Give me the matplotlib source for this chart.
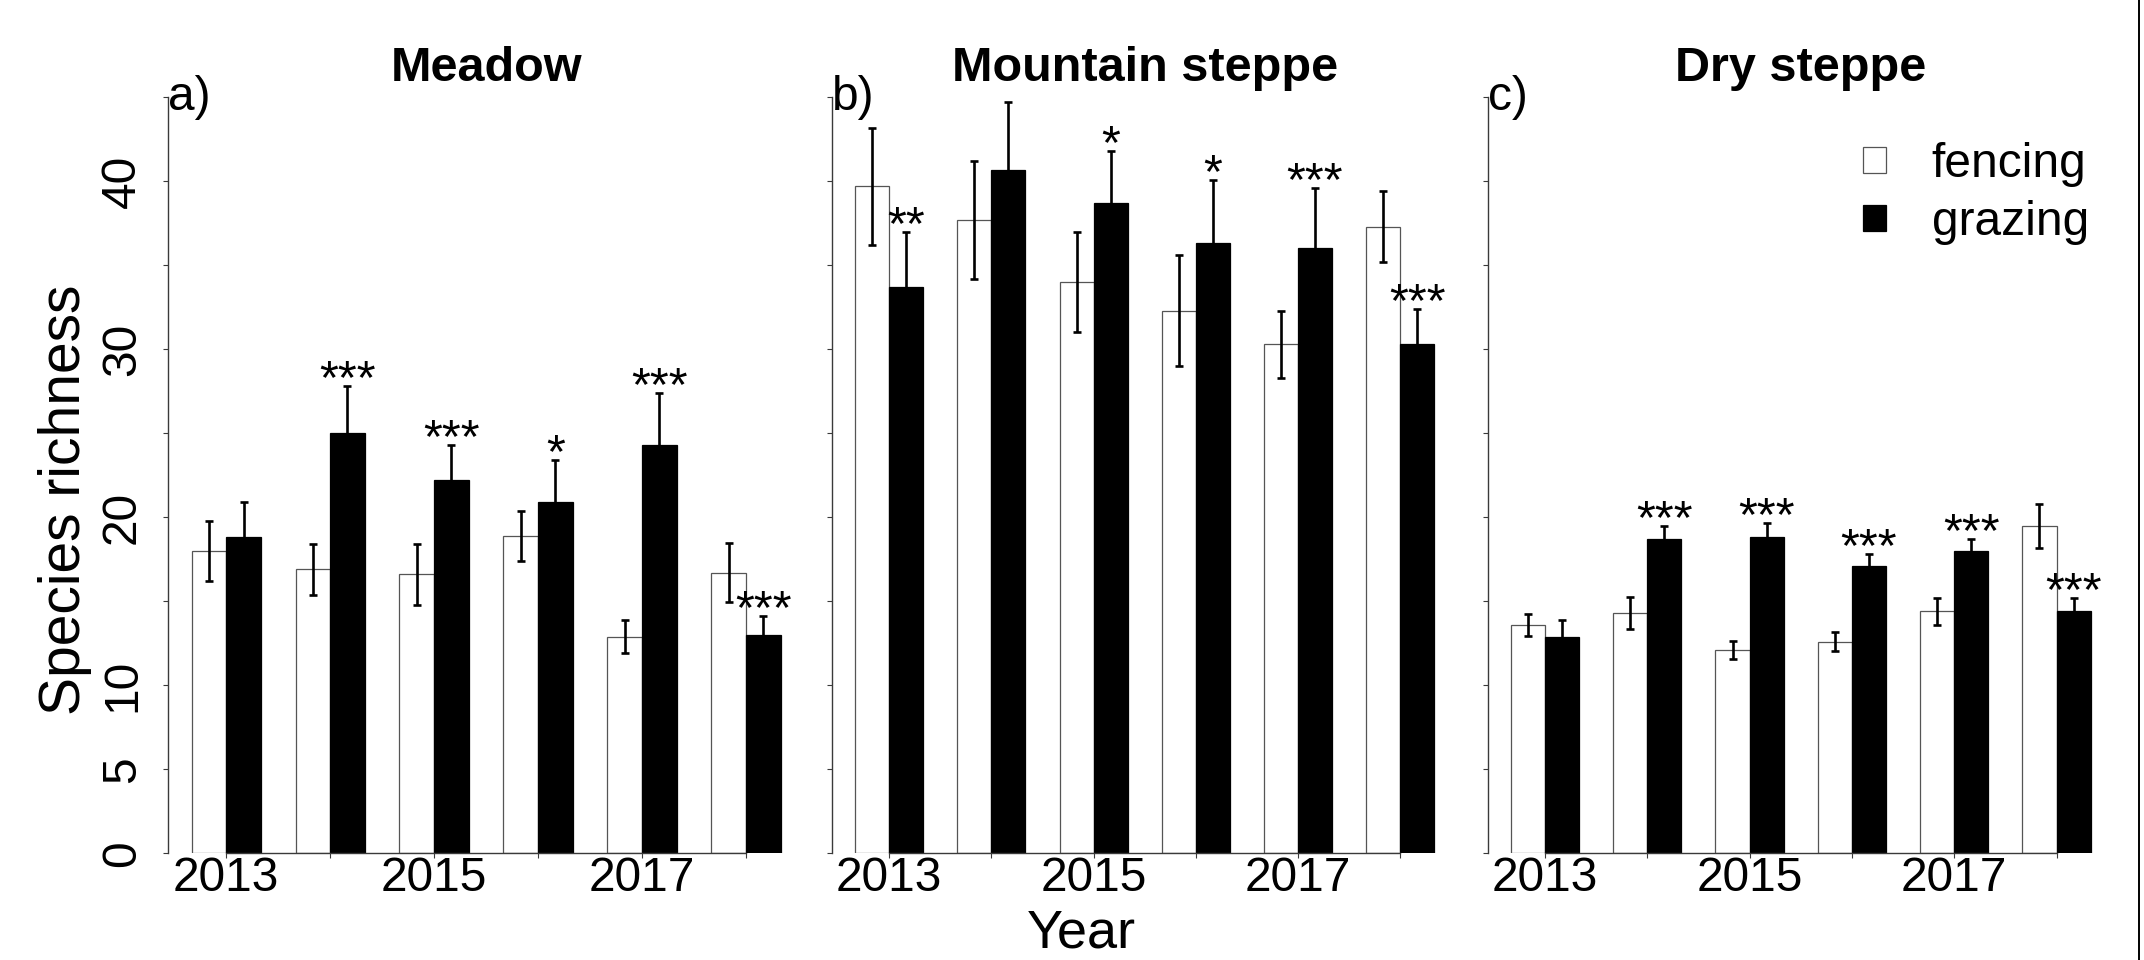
import numpy as np
import matplotlib
matplotlib.use("Agg")
import matplotlib.pyplot as plt
from matplotlib.patches import Patch
from matplotlib.lines import Line2D

# ---------------- data ----------------
years = [2013, 2014, 2015, 2016, 2017, 2018]
year_labels = ["2013", "", "2015", "", "2017", ""]
habitats = ["Meadow", "Mountain steppe", "Dry steppe"]
panel_tags = ["a)", "b)", "c)"]
treatments = ["fencing", "grazing"]

meadow_fencing = [18.0, 16.9, 16.6, 18.9, 12.9, 16.7]
meadow_fencing_se = [1.8, 1.5, 1.8, 1.5, 1.0, 1.75]
meadow_grazing = [18.8, 25.0, 22.2, 20.9, 24.3, 13.0]
meadow_grazing_se = [2.1, 2.8, 2.1, 2.5, 3.1, 1.1]
meadow_sig = ["", "***", "***", "*", "***", "***"]

mountain_fencing = [39.7, 37.7, 34.0, 32.3, 30.3, 37.3]
mountain_fencing_se = [3.5, 3.5, 3.0, 3.3, 2.0, 2.1]
mountain_grazing = [33.7, 40.7, 38.7, 36.3, 36.0, 30.3]
mountain_grazing_se = [3.3, 4.0, 3.1, 3.8, 3.6, 2.1]
mountain_sig = ["**", "", "*", "*", "***", "***"]

dry_fencing = [13.6, 14.3, 12.1, 12.6, 14.4, 19.5]
dry_fencing_se = [0.65, 0.95, 0.55, 0.55, 0.8, 1.3]
dry_grazing = [12.9, 18.7, 18.8, 17.1, 18.0, 14.4]
dry_grazing_se = [1.0, 0.77, 0.84, 0.7, 0.73, 0.8]
dry_sig = ["", "***", "***", "***", "***", "***"]

y_ticks = [0, 5, 10, 15, 20, 25, 30, 35, 40, 45]
y_tick_labels = ["0", "5", "10", "", "20", "", "30", "", "40", ""]

panels = [
    (meadow_fencing, meadow_fencing_se, meadow_grazing, meadow_grazing_se, meadow_sig),
    (mountain_fencing, mountain_fencing_se, mountain_grazing, mountain_grazing_se, mountain_sig),
    (dry_fencing, dry_fencing_se, dry_grazing, dry_grazing_se, dry_sig),
]

# ---------------- style ----------------
plt.rcParams["font.family"] = ["Liberation Sans", "DejaVu Sans"]
W, H = 2144, 960
fig = plt.figure(figsize=(W / 100, H / 100), dpi=100)
fig.patch.set_facecolor("white")

panel_px = [(168.0, 804.2), (832.0, 1457.3), (1487.7, 2113.8)]
top_px, bot_px = 97.3, 853.3

TICK_FS = 34.5
axis_col = "#3a3a3a"

centers = np.arange(len(years)) * 3 + 2.0  # R barplot beside layout (space = c(0, 1))

for k, (fen, fen_se, gra, gra_se, sig) in enumerate(panels):
    l, r = panel_px[k]
    ax = fig.add_axes([l / W, 1 - bot_px / H, (r - l) / W, (bot_px - top_px) / H])
    ax.set_xlim(0.32, 18.68)
    ax.set_ylim(0, 45)

    ax.bar(centers - 0.5, fen, width=1.0, color="white", edgecolor="#555555",
           linewidth=0.9, zorder=2)
    ax.bar(centers + 0.5, gra, width=1.0, color="black", edgecolor="black",
           linewidth=0.9, zorder=2)
    ax.errorbar(centers - 0.5, fen, yerr=fen_se, fmt="none", ecolor="black",
                elinewidth=1.9, capsize=2.9, capthick=1.9, zorder=3)
    ax.errorbar(centers + 0.5, gra, yerr=gra_se, fmt="none", ecolor="black",
                elinewidth=1.9, capsize=2.9, capthick=1.9, zorder=3)

    for i, s in enumerate(sig):
        if s:
            ax.annotate(s, xy=(centers[i] + 0.5, gra[i] + gra_se[i]),
                        xytext=(0, -5), textcoords="offset points",
                        ha="center", va="baseline", fontsize=35, zorder=4)

    for side in ["top", "right"]:
        ax.spines[side].set_visible(False)
    ax.spines["left"].set_color(axis_col)
    ax.spines["left"].set_linewidth(1.0)
    ax.spines["bottom"].set_color(axis_col)
    ax.spines["bottom"].set_linewidth(1.0)
    ax.spines["bottom"].set_bounds(centers[0], centers[-1])

    ax.set_xticks(centers)
    ax.set_xticklabels(year_labels, fontsize=TICK_FS)
    ax.tick_params(axis="x", length=3.6, width=0.8, color=axis_col, pad=-1.5)

    ax.set_yticks(y_ticks)
    if k == 0:
        ax.set_yticklabels(y_tick_labels, fontsize=TICK_FS, rotation=90, va="center")
    else:
        ax.set_yticklabels([])
    ax.tick_params(axis="y", length=3.6, width=0.8, color=axis_col, pad=13)

    ax.set_title(habitats[k], fontsize=35, fontweight="bold", pad=12)
    ax.text(0.0, 1.0, panel_tags[k], transform=ax.transAxes, ha="left",
            va="center", fontsize=TICK_FS)

    if k == 2:
        handles = [Patch(facecolor="white", edgecolor="#555555", linewidth=0.9),
                   Patch(facecolor="black", edgecolor="black", linewidth=0.9)]
        ax.legend(handles, treatments, loc="upper right",
                  bbox_to_anchor=(2089 / W, 1 - 142 / H),
                  bbox_transform=fig.transFigure, frameon=False,
                  fontsize=TICK_FS, handlelength=0.48, handleheight=0.48,
                  handletextpad=0.95, labelspacing=0.27, borderpad=0,
                  borderaxespad=0)

fig.text(80 / W, 1 - 500 / H, "Species richness", rotation=90,
         rotation_mode="anchor", ha="center", va="baseline", fontsize=41)
fig.text(1081 / W, 2 / H, "Year", ha="center", va="bottom", fontsize=39)

fig.add_artist(Line2D([2139 / W, 2139 / W], [0, 1], color="black", lw=1.4,
                      transform=fig.transFigure))

fig.savefig("out.png", dpi=100, facecolor="white")
